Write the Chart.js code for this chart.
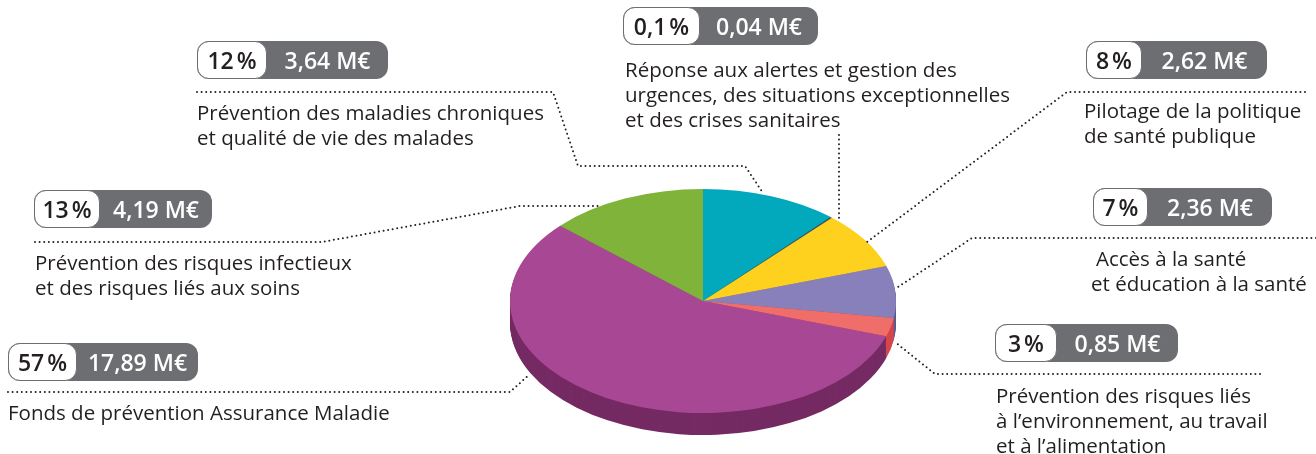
<!DOCTYPE html>
<html>
<head>
<meta charset="utf-8">
<script src="https://cdn.jsdelivr.net/npm/chart.js@4"></script>
<style>
  html, body { margin: 0; padding: 0; background: #fff; }
  #wrap { position: relative; width: 1316px; height: 454px; overflow: hidden; font-family: "Open Sans", "Noto Sans", sans-serif; color: #231f20; }
  #pie { position: absolute; left: 0; top: 0; }
  .badge { position: absolute; height: 38px; display: flex; background: #6d6e71; border-radius: 12px; box-sizing: border-box; font-size: 23px; font-weight: 600; }
  .badge .p { background: #fff; border: 1.5px solid #6d6e71; border-radius: 12px; box-sizing: border-box; display: flex; align-items: center; justify-content: center; color: #231f20; }
  .badge .v { flex: 1; display: flex; align-items: center; justify-content: center; color: #fff; }
  .txt { position: absolute; font-size: 20.5px; line-height: 25px; white-space: nowrap; color: #231f20; }
</style>
</head>
<body>
<div id="wrap">
  <canvas id="pie" width="1316" height="454"></canvas>
</div>
<script>
// data, in drawing order (clockwise from the top)
const categories = [
  'Prévention des maladies chroniques\net qualité de vie des malades',
  'Réponse aux alertes et gestion des\nurgences, des situations exceptionnelles\net des crises sanitaires',
  'Pilotage de la politique\nde santé publique',
  'Accès à la santé\net éducation à la santé',
  'Prévention des risques liés\nà l’environnement, au travail\net à l’alimentation',
  'Fonds de prévention Assurance Maladie',
  'Prévention des risques infectieux\net des risques liés aux soins'
];
const amounts = [3.64, 0.04, 2.62, 2.36, 0.85, 17.89, 4.19];
const shareLabels = ['12 %', '0,1 %', '8 %', '7 %', '3 %', '57 %', '13 %'];
const amountLabels = ['3,64 M€', '0,04 M€', '2,62 M€', '2,36 M€', '0,85 M€', '17,89 M€', '4,19 M€'];
const sliceColors = ['#02a9bc', '#4d4d52', '#fed11f', '#8780ba', '#ef6e6a', '#a84894', '#80b33a'];
const rimColors = ['#02778a', '#333336', '#c9a010', '#5f5990', '#d5474a', '#752a63', '#5a8526'];

// where the labels sit (badge box, width of white part, text block)
const labelBoxes = [
  { x: 197, y: 41, w: 191, pw: 70, tx: 197, ty: 100 },
  { x: 623, y: 7, w: 195, pw: 77, tx: 625, ty: 57 },
  { x: 1086, y: 41, w: 181, pw: 56, tx: 1084, ty: 98 },
  { x: 1093, y: 188, w: 179, pw: 55, tx: 1096, ty: 246, indent: 5 },
  { x: 995, y: 324, w: 183, pw: 62, tx: 996, ty: 383 },
  { x: 8, y: 343, w: 190, pw: 69, tx: 8, ty: 400 },
  { x: 34, y: 190, w: 178, pw: 66, tx: 35, ty: 250 }
];
const leaders = [
  [[197, 92], [553, 92], [578, 166], [745, 166], [763, 193]],
  [[839, 135], [839, 222]],
  [[1305, 92], [1067, 92], [867, 242]],
  [[1316, 238], [972, 238], [898, 287]],
  [[1260, 374], [935, 374], [895, 342]],
  [[8, 392], [510, 392], [530, 374]],
  [[35, 242], [322, 242], [520, 206], [602, 206]]
];

const CENTER_Y = 301;   // screen y of the pie centre
const TILT = 112 / 193; // vertical squash of the top face
const DEPTH = 22;

const wrap = document.getElementById('wrap');
labelBoxes.forEach((b, i) => {
  const badge = document.createElement('div');
  badge.className = 'badge';
  badge.style.left = b.x + 'px';
  badge.style.top = b.y + 'px';
  badge.style.width = b.w + 'px';
  badge.innerHTML = '<span class="p" style="width:' + b.pw + 'px">' + shareLabels[i].replace(' ', '\u202f') +
    '</span><span class="v">' + amountLabels[i] + '</span>';
  wrap.appendChild(badge);

  const t = document.createElement('div');
  t.className = 'txt';
  t.style.left = b.tx + 'px';
  t.style.top = b.ty + 'px';
  t.innerHTML = categories[i].split('\n').map((l, k) =>
    (k > 0 && b.indent ? '<span style="margin-left:-' + b.indent + 'px">' + l + '</span>' : l)).join('<br>');
  wrap.appendChild(t);
});

const pie3d = {
  id: 'pie3d',
  beforeDatasetsDraw(chart) {
    const ctx = chart.ctx;
    const arcs = chart.getDatasetMeta(0).data;
    const cx = arcs[0].x, cy = arcs[0].y;
    // side of the disc: the same slices, stacked downwards in darker tones
    for (let d = DEPTH; d >= 1; d--) {
      ctx.save();
      ctx.translate(cx, CENTER_Y + d);
      ctx.scale(1, TILT);
      ctx.translate(-cx, -cy);
      arcs.forEach((arc, i) => {
        const p = arc.getProps(['x', 'y', 'startAngle', 'endAngle', 'outerRadius']);
        ctx.beginPath();
        ctx.moveTo(p.x, p.y);
        ctx.arc(p.x, p.y, p.outerRadius, p.startAngle, p.endAngle);
        ctx.closePath();
        ctx.fillStyle = rimColors[i];
        ctx.fill();
      });
      ctx.restore();
    }
    ctx.save();
    ctx.translate(cx, CENTER_Y);
    ctx.scale(1, TILT);
    ctx.translate(-cx, -cy);
  },
  afterDatasetsDraw(chart) {
    chart.ctx.restore();
  },
  afterDraw(chart) {
    const ctx = chart.ctx;
    ctx.save();
    ctx.strokeStyle = '#231f20';
    ctx.lineWidth = 2;
    ctx.lineCap = 'round';
    ctx.setLineDash([0, 4.6]);
    leaders.forEach(pts => {
      ctx.beginPath();
      pts.forEach((pt, k) => k ? ctx.lineTo(pt[0], pt[1]) : ctx.moveTo(pt[0], pt[1]));
      ctx.stroke();
    });
    ctx.restore();
  }
};

new Chart(document.getElementById('pie'), {
  type: 'pie',
  data: {
    labels: categories,
    datasets: [{
      data: amounts,
      backgroundColor: sliceColors,
      borderWidth: 0,
      hoverOffset: 0
    }]
  },
  options: {
    responsive: false,
    animation: false,
    events: [],
    layout: { padding: { left: 510, right: 420, top: 34, bottom: 34 } },
    plugins: { legend: { display: false }, tooltip: { enabled: false } }
  },
  plugins: [pie3d]
});
</script>
</body>
</html>
